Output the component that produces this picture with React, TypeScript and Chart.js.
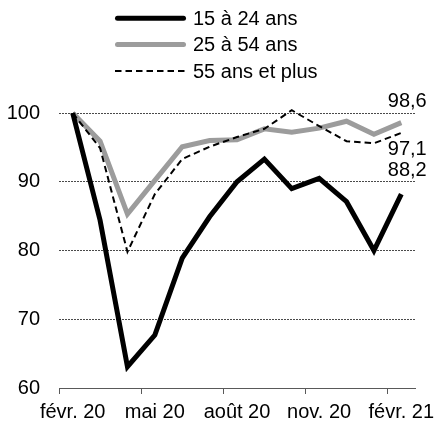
import React, { useEffect, useRef } from 'react';
import { Chart, registerables } from 'chart.js';

Chart.register(...registerables);

// ---- Data ----
const months = [
  'févr. 20', 'mars 20', 'avr. 20', 'mai 20', 'juin 20', 'juil. 20', 'août 20',
  'sept. 20', 'oct. 20', 'nov. 20', 'déc. 20', 'janv. 21', 'févr. 21',
];
const seriesNames = ['15 à 24 ans', '25 à 54 ans', '55 ans et plus'];
const youth = [100, 84.4, 63.1, 67.7, 78.9, 84.9, 90.0, 93.3, 89.0, 90.5, 87.1, 80.0, 88.2];
const prime = [100, 95.9, 85.3, 90.2, 95.1, 96.0, 96.1, 97.7, 97.2, 97.8, 98.8, 96.9, 98.6];
const senior = [100, 94.9, 79.8, 88.2, 93.3, 95.1, 96.5, 97.7, 100.4, 98.1, 95.9, 95.6, 97.1];
const endLabels = ['88,2', '98,6', '97,1'];
const yMin = 60;
const yMax = 100;
const yStep = 10;

// ---- Styles ----
const FONT_FAMILY = '"Liberation Sans", Arial, Helvetica, sans-serif';
const FONT_SIZE = 20;
const AXIS_COLOR = '#595959';
const GRID_COLOR = '#4a4a4a';
const endLabelOffsets = [-24, -21, 17];

const legendPlugin = {
  id: 'customLegend',
  afterDraw(chart: any) {
    const ctx = chart.ctx as CanvasRenderingContext2D;
    const x0 = 115;
    const sampleW = 71;
    const rows = [18.3, 44.5, 71];
    ctx.save();
    chart.data.datasets.forEach((ds: any, i: number) => {
      const y = rows[i];
      ctx.beginPath();
      ctx.strokeStyle = ds.borderColor;
      ctx.lineWidth = ds.borderWidth;
      if (ds.borderDash && ds.borderDash.length) {
        ctx.setLineDash(ds.borderDash);
        ctx.lineCap = 'butt';
        ctx.moveTo(x0, y);
        ctx.lineTo(x0 + sampleW, y);
      } else {
        ctx.setLineDash([]);
        ctx.lineCap = 'round';
        ctx.moveTo(x0 + ds.borderWidth / 2, y);
        ctx.lineTo(x0 + sampleW - ds.borderWidth / 2, y);
      }
      ctx.stroke();
      ctx.setLineDash([]);
      ctx.fillStyle = '#000';
      ctx.font = `${FONT_SIZE}px ${FONT_FAMILY}`;
      ctx.textAlign = 'left';
      ctx.textBaseline = 'middle';
      ctx.fillText(ds.label, x0 + sampleW + 7, y + 1);
    });
    ctx.restore();
  },
};

const endLabelPlugin = {
  id: 'endLabels',
  afterDatasetsDraw(chart: any) {
    const ctx = chart.ctx as CanvasRenderingContext2D;
    const xs = chart.scales.x;
    const ys = chart.scales.y;
    ctx.save();
    ctx.font = `${FONT_SIZE}px ${FONT_FAMILY}`;
    ctx.fillStyle = '#000';
    ctx.textAlign = 'left';
    ctx.textBaseline = 'middle';
    chart.data.datasets.forEach((ds: any, i: number) => {
      const last = ds.data.length - 1;
      const x = xs.getPixelForValue(last) - 13.5;
      const y = ys.getPixelForValue(ds.data[last]) + endLabelOffsets[i];
      ctx.fillText(endLabels[i], x, y);
    });
    ctx.restore();
  },
};

export default function App() {
  const canvasRef = useRef<HTMLCanvasElement | null>(null);

  useEffect(() => {
    const canvas = canvasRef.current;
    if (!canvas) return;
    const chart = new Chart(canvas, {
      type: 'line',
      data: {
        labels: months,
        datasets: [
          {
            label: seriesNames[0],
            data: youth,
            borderColor: '#000000',
            borderWidth: 5,
            pointRadius: 0,
            tension: 0,
            fill: false,
            order: 0,
            clip: false as any,
          },
          {
            label: seriesNames[1],
            data: prime,
            borderColor: '#9c9c9c',
            borderWidth: 5,
            pointRadius: 0,
            tension: 0,
            fill: false,
            order: 2,
            clip: false as any,
          },
          {
            label: seriesNames[2],
            data: senior,
            borderColor: '#000000',
            borderWidth: 2,
            borderDash: [6.5, 4],
            pointRadius: 0,
            tension: 0,
            fill: false,
            order: 1,
            clip: false as any,
          },
        ],
      },
      options: {
        responsive: false,
        animation: false,
        devicePixelRatio: 1,
        layout: { padding: { top: 113, right: 22, left: 0, bottom: 0 } },
        plugins: {
          legend: { display: false },
          tooltip: { enabled: false },
        },
        scales: {
          x: {
            type: 'category',
            offset: true,
            grid: {
              offset: true,
              drawOnChartArea: false,
              drawTicks: true,
              tickLength: 6,
              tickWidth: 1,
              tickColor: (c: any) => (typeof c.index === 'number' && c.index % 3 === 0 ? AXIS_COLOR : 'transparent'),
            },
            border: { display: true, color: AXIS_COLOR, width: 1 },
            ticks: {
              autoSkip: false,
              maxRotation: 0,
              minRotation: 0,
              padding: 6,
              color: '#000',
              font: { family: FONT_FAMILY, size: FONT_SIZE },
              callback: (_v: any, i: number) => (i % 3 === 0 ? months[i] : ''),
            },
            afterFit: (s: any) => {
              s.height = 36;
              s.paddingLeft = 0;
              s.paddingRight = 0;
            },
          },
          y: {
            min: yMin,
            max: yMax,
            grid: {
              drawTicks: false,
              lineWidth: 1,
              color: (c: any) => (c.tick && c.tick.value === yMin ? 'transparent' : GRID_COLOR),
            },
            border: { display: false, dash: [2, 1] },
            ticks: {
              stepSize: yStep,
              padding: 19,
              color: '#000',
              font: { family: FONT_FAMILY, size: FONT_SIZE },
            },
            afterFit: (s: any) => {
              s.width = 59;
              s.paddingTop = 0;
              s.paddingBottom = 0;
            },
          },
        },
      },
      plugins: [endLabelPlugin, legendPlugin],
    });
    return () => chart.destroy();
  }, []);

  return (
    <canvas
      ref={canvasRef}
      width={437}
      height={424}
      style={{ position: 'absolute', left: 0, top: 0, display: 'block' }}
    />
  );
}
